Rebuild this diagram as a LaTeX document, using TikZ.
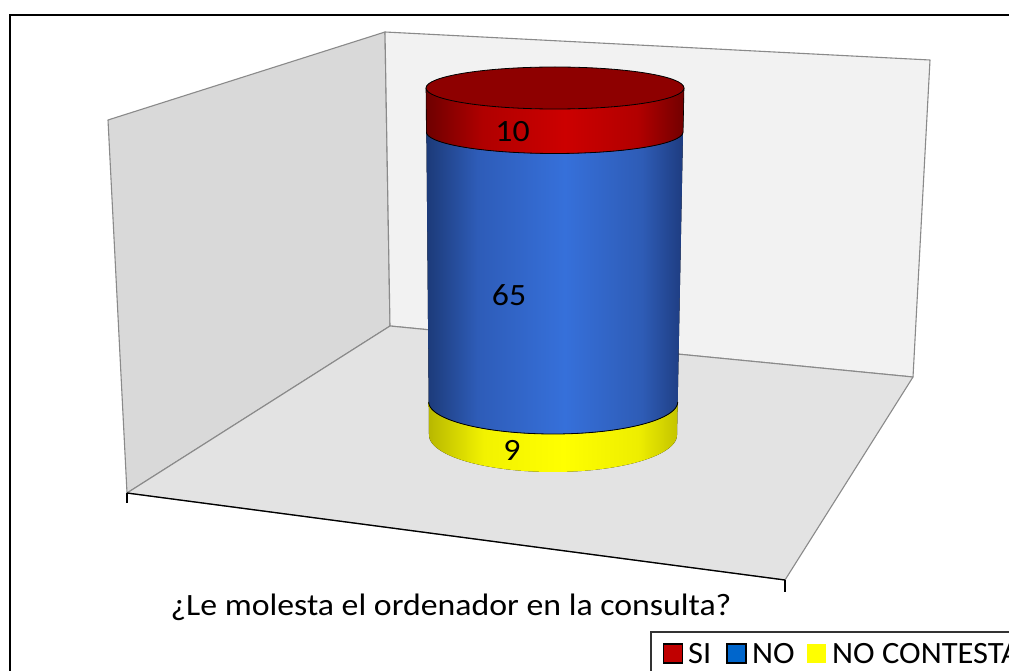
\documentclass[tikz,border=0pt]{standalone}
\usepackage{fontspec}
\setmainfont{Carlito}[FakeStretch=1.09]
\newfontfamily\legfont{Carlito}[FakeStretch=1.05]
\definecolor{leftwall}{HTML}{D9D9D9}
\definecolor{backwall}{HTML}{F2F2F2}
\definecolor{floorc}{HTML}{E3E3E3}
\definecolor{edgec}{HTML}{8A8A8A}
\definecolor{topred}{HTML}{8E0000}
\definecolor{rd1}{HTML}{6E0000}
\definecolor{rd2}{HTML}{B00000}
\definecolor{rd3}{HTML}{CC0000}
\definecolor{rd4}{HTML}{B20000}
\definecolor{rd5}{HTML}{720000}
\definecolor{bl1}{HTML}{1C3A78}
\definecolor{bl2}{HTML}{2E5CB8}
\definecolor{bl3}{HTML}{3670DA}
\definecolor{bl4}{HTML}{2E5CB6}
\definecolor{bl5}{HTML}{1E3C80}
\definecolor{ye1}{HTML}{B8B800}
\definecolor{ye2}{HTML}{F2F200}
\definecolor{ye3}{HTML}{FFFF00}
\definecolor{ye4}{HTML}{EEEE00}
\definecolor{ye5}{HTML}{C4C400}
\definecolor{legred}{HTML}{C00000}
\definecolor{legblue}{HTML}{0066CC}
\definecolor{legyellow}{HTML}{FFFF00}
\pgfdeclarehorizontalshading{redside}{100bp}{color(0bp)=(rd1); color(25bp)=(rd1); color(36bp)=(rd2); color(52bp)=(rd3); color(66bp)=(rd4); color(75bp)=(rd5); color(100bp)=(rd5)}
\pgfdeclarehorizontalshading{blueside}{100bp}{color(0bp)=(bl1); color(25bp)=(bl1); color(35bp)=(bl2); color(52bp)=(bl3); color(67bp)=(bl4); color(75bp)=(bl5); color(100bp)=(bl5)}
\pgfdeclarehorizontalshading{yellowside}{100bp}{color(0bp)=(ye1); color(25bp)=(ye1); color(36bp)=(ye2); color(52bp)=(ye3); color(67bp)=(ye4); color(75bp)=(ye5); color(100bp)=(ye5)}
\tikzset{
  wall/.style={draw=edgec, line width=1.1pt, line join=round},
  lbl/.style={font=\fontsize{31}{37}\selectfont, text=black, inner sep=0pt, anchor=base},
  legtxt/.style={font=\legfont\fontsize{31}{37}\selectfont, text=black, inner sep=0pt, anchor=base west},
  legsq/.style={minimum width=19pt, minimum height=19pt, inner sep=0pt, draw=black, line width=1.6pt},
  rim/.style={draw=black, line width=0.8pt},
}
\begin{document}
\begin{tikzpicture}[x=1pt, y=-1pt]
\useasboundingbox (0,0) rectangle (1009,671);
\fill[white] (0,0) rectangle (1009,671);
% outer frame (cropped at right and bottom)
\draw[black, line width=1.4pt] (10,700) -- (10,15) -- (1040,15);
% walls and floor
\coordinate (bl) at (385,32);
\coordinate (tl) at (108,120);
\coordinate (fl) at (127,493);
\coordinate (bb) at (390,326);
\coordinate (br) at (930,60);
\coordinate (brb) at (913,377);
\coordinate (fr) at (785,580);
\filldraw[wall, fill=leftwall] (tl) -- (bl) -- (bb) -- (fl) -- cycle;
\filldraw[wall, fill=backwall] (bl) -- (br) -- (brb) -- (bb) -- cycle;
\filldraw[wall, fill=floorc] (bb) -- (brb) -- (fr) -- (fl) -- cycle;
\draw[black, line width=1.3pt] (fl) -- (fr);
\coordinate (flt) at (127,503);
\coordinate (frt) at (785,592);
\draw[black, line width=1.3pt] (fl) -- (flt);
\draw[black, line width=1.3pt] (fr) -- (frt);
% cylinder: bands
\fill[shading=yellowside]
  plot[domain=180:0, samples=60] ({553.2+124.5*cos(\x)}, {402+32*sin(\x)})
  -- plot[domain=0:180, samples=60] ({553+124*cos(\x)}, {435+37*sin(\x)}) -- cycle;
\fill[shading=blueside]
  plot[domain=180:0, samples=60] ({554.7+128.3*cos(\x)}, {132+21.5*sin(\x)})
  -- plot[domain=0:180, samples=60] ({553.2+124.5*cos(\x)}, {402+32*sin(\x)}) -- cycle;
\draw[rim] plot[domain=180:0, samples=60] ({553.2+124.5*cos(\x)}, {402+32*sin(\x)});
\fill[shading=redside]
  plot[domain=180:0, samples=60] ({555+129*cos(\x)}, {88+21*sin(\x)})
  -- plot[domain=0:180, samples=60] ({554.7+128.3*cos(\x)}, {132+21.5*sin(\x)}) -- cycle;
\draw[rim] plot[domain=180:0, samples=60] ({554.7+128.3*cos(\x)}, {132+21.5*sin(\x)});
\draw[black, line width=0.6pt] (426,88) -- (426.4,132);
\draw[black, line width=0.6pt] (684,88) -- (683.1,132);
% top face
\filldraw[fill=topred, rim] (555,88) ellipse [x radius=129pt, y radius=21pt];
% value labels
\node[lbl] (vsi) at (512.5,142) {10};
\node[lbl] (vno) at (509,305) {65};
\node[lbl] (vnc) at (512,460) {9};
% axis title
\node[lbl] (title) at (451,615) {¿Le molesta el ordenador en la consulta?};
% legend
\draw[black!80, line width=1.3pt] (651,700) -- (651,632) -- (1040,632);
\node[legsq, fill=legred] (ksi) at (673,653.5) {};
\node[legtxt] (tsi) at (688,663) {SI};
\node[legsq, fill=legblue] (kno) at (736.5,653.5) {};
\node[legtxt] (tno) at (752,663) {NO};
\node[legsq, draw=none, fill=legyellow] (knc) at (816,653.5) {};
\node[legtxt] (tnc) at (832,663) {NO CONTESTA};
\end{tikzpicture}
\end{document}
